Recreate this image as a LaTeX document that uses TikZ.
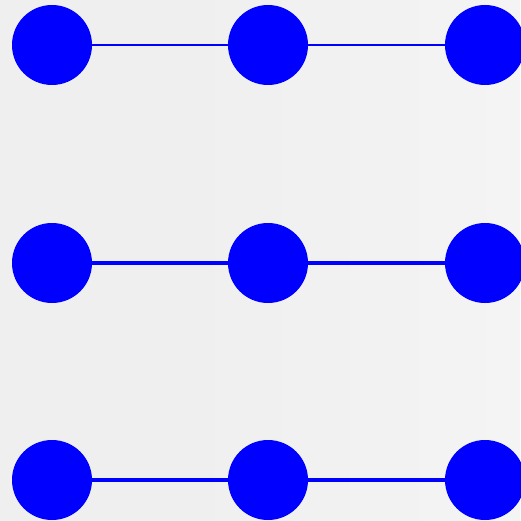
\documentclass[tikz,border=0pt]{standalone}
\begin{document}
\begin{tikzpicture}[x=1pt,y=-1pt,
  dot/.style={circle,fill=blue,draw=none,minimum size=80pt,inner sep=0pt},
  thin link/.style={blue,line width=2pt},
  thick link/.style={blue,line width=3.5pt}]
\definecolor{bg}{HTML}{EFEFEF}
\definecolor{bgl}{HTML}{F4F4F4}
\useasboundingbox (0,0) rectangle (520,521);
\fill[bg] (0,0) rectangle (520,521);
\shade[left color=bg,right color=bgl] (180,0) rectangle (520,521);
\foreach \r/\y in {1/45,2/263,3/480}{
  \node[dot] (n\r a) at (52,\y) {};
  \node[dot] (n\r b) at (268,\y) {};
  \node[dot] (n\r c) at (485,\y) {};
}
\draw[thin link] (n1a) -- (n1b);
\draw[thin link] (n1b) -- (n1c);
\draw[thick link] (n2a) -- (n2b);
\draw[thick link] (n2b) -- (n2c);
\draw[thick link] (n3a) -- (n3b);
\draw[thick link] (n3b) -- (n3c);
\end{tikzpicture}
\end{document}
